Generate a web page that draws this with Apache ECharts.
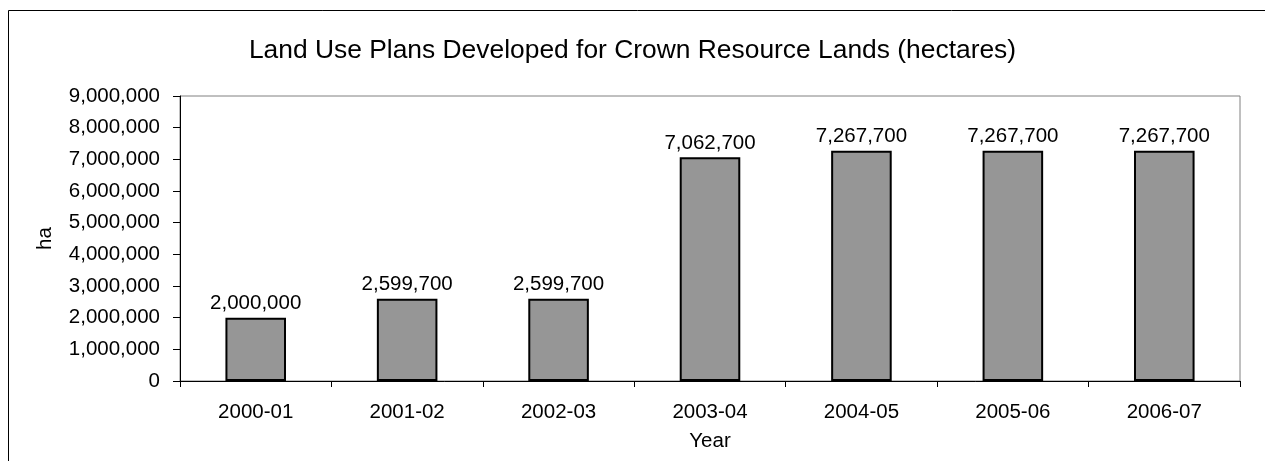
<!DOCTYPE html>
<html>
<head>
<meta charset="utf-8">
<script src="https://cdn.jsdelivr.net/npm/echarts@6/dist/echarts.min.js"></script>
<style>
html,body{margin:0;padding:0;background:#fff;}
#chart{width:1265px;height:461px;}
</style>
</head>
<body>
<div id="chart"></div>
<script>
const titleText = "Land Use Plans Developed for Crown Resource Lands (hectares)";
const categories = ["2000-01","2001-02","2002-03","2003-04","2004-05","2005-06","2006-07"];
const values = [2000000, 2599700, 2599700, 7062700, 7267700, 7267700, 7267700];
const yMin = 0, yMax = 9000000, yStep = 1000000;
const xName = "Year", yName = "ha";

const FONT = "'Liberation Sans', Arial, sans-serif";
function fmt(v){ return String(Math.round(v)).replace(/\B(?=(\d{3})+(?!\d))/g, ","); }

const chart = echarts.init(document.getElementById('chart'), null, {renderer:'canvas'});
chart.setOption({
  animation:false,
  backgroundColor:'#ffffff',
  title:{
    text:titleText, left:'center', top:33,
    textStyle:{fontFamily:FONT, fontSize:26.4, fontWeight:'normal', color:'#000', lineHeight:26}
  },
  graphic:[{
    type:'rect', left:6, top:8, z:-1,
    shape:{x:0.5,y:0.5,width:1300,height:500},
    style:{fill:'none', stroke:'#000', lineWidth:1}
  }],
  grid:{left:180, right:25, top:96, bottom:80, show:true, borderColor:'#808080', borderWidth:1, backgroundColor:'transparent'},
  xAxis:{
    type:'category', data:categories, boundaryGap:true,
    name:xName, nameLocation:'middle', nameGap:50,
    nameTextStyle:{fontFamily:FONT, fontSize:20.5, color:'#000'},
    axisLine:{show:true, lineStyle:{color:'#000', width:1}},
    axisTick:{show:true, inside:false, length:6, alignWithLabel:false, lineStyle:{color:'#000'}},
    axisLabel:{fontFamily:FONT, fontSize:20.5, color:'#000', margin:21, interval:0},
    splitLine:{show:false}
  },
  yAxis:{
    type:'value', min:yMin, max:yMax, interval:yStep,
    name:yName, nameLocation:'middle', nameGap:124, nameRotate:90,
    nameTextStyle:{fontFamily:FONT, fontSize:20.5, color:'#000'},
    axisLine:{show:true, lineStyle:{color:'#000', width:1}},
    axisTick:{show:true, inside:false, length:7, lineStyle:{color:'#000'}},
    axisLabel:{fontFamily:FONT, fontSize:20.5, color:'#000', margin:20, formatter:fmt},
    splitLine:{show:false}
  },
  series:[{
    type:'bar', data:values, barWidth:'40%',
    itemStyle:{color:'#969696', borderColor:'#000', borderWidth:2},
    label:{show:true, position:'top', distance:4, fontFamily:FONT, fontSize:20.5, color:'#000',
      formatter:function(p){return fmt(p.value);}}
  }]
});
</script>
</body>
</html>
